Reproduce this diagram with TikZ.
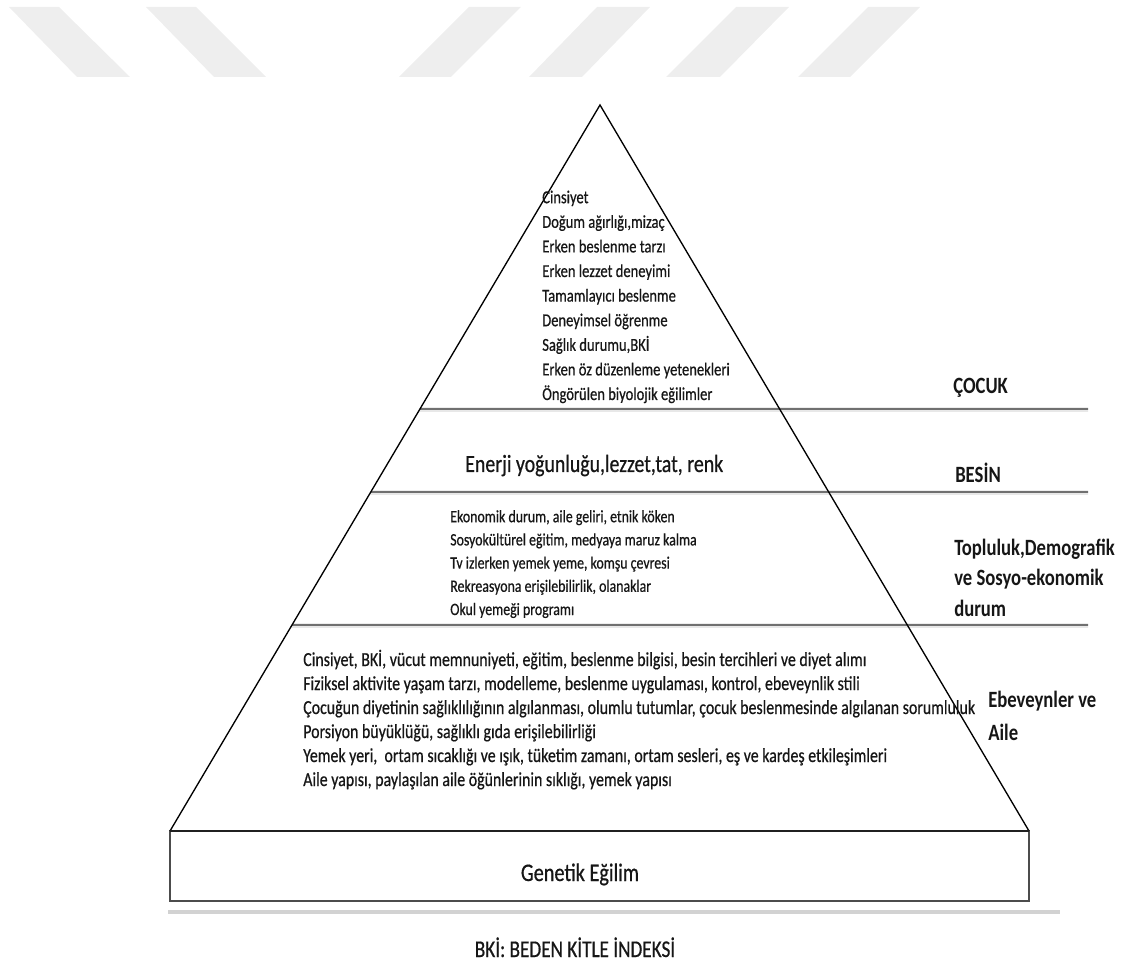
\documentclass[tikz,border=0pt]{standalone}
\usepackage{fontspec}
\setmainfont{Carlito}[FakeStretch=0.8, UprightFeatures={FakeBold=0.6}]
\usepackage{tikz}
\usetikzlibrary{calc}

\definecolor{wmgray}{HTML}{EEEEEE}
\definecolor{rulegray}{HTML}{707070}
\definecolor{ink}{HTML}{161616}

\tikzstyle{stripe} = [fill=wmgray, draw=none]
\tikzstyle{side} = [draw=black, line width=1pt]
\tikzstyle{divider} = [draw=rulegray, line width=1.5pt]
\tikzstyle{dividershade} = [draw=gray!18, line width=1.5pt]
\tikzstyle{items} = [text=ink, align=left, anchor=base west, inner sep=0pt,
    font=\fontsize{13.65}{18.45}\selectfont]
\tikzstyle{layername} = [text=ink, align=left, anchor=base west, inner sep=0pt,
    font=\fontsize{17.5}{23.25}\selectfont\bfseries]
\tikzstyle{bigtext} = [text=ink, anchor=base, inner sep=0pt,
    font=\fontsize{19}{22}\selectfont]

\begin{document}
\begin{tikzpicture}[x=0.75pt, y=-0.75pt]
    \useasboundingbox (0,0) rectangle (1122,962);

    % watermark stripes
    \fill[stripe] (9,7) -- (59,7) -- (130,77) -- (77,77) -- cycle;
    \fill[stripe] (146,7) -- (196,7) -- (266,77) -- (214,77) -- cycle;
    \fill[stripe] (469,7) -- (521,7) -- (451,77) -- (399,77) -- cycle;
    \fill[stripe] (597,7) -- (650,7) -- (582,77) -- (529,77) -- cycle;
    \fill[stripe] (736,7) -- (789,7) -- (720,77) -- (666,77) -- cycle;
    \fill[stripe] (868,7) -- (920,7) -- (850,77) -- (798,77) -- cycle;

    % pyramid corners
    \coordinate (apex) at (600,105);
    \coordinate (bl) at (170,831);
    \coordinate (br) at (1029,831);

    % layer dividers
    \foreach \yy in {409,492,625} {
        \draw[dividershade] ($(apex)!{(\yy+2-105)/726}!(bl)$) -- (1088,\yy+2);
        \draw[divider] ($(apex)!{(\yy-105)/726}!(bl)$) -- (1088,\yy);
    }

    % genetic box and rule below it
    \draw[draw=gray!35, line width=3pt] (168,912) -- (1060,912);
    \draw[draw=gray!60!black, line width=1pt] (bl) rectangle (1029,901);
    \draw[side] (bl) -- (apex) -- (br);
    \draw[draw=gray!25!black, line width=2pt] (bl) -- (br);

    % layer contents (anchored at the last line)
    \node[items] (child) at (542,400) {Cinsiyet\\Doğum ağırlığı,mizaç\\Erken beslenme tarzı\\Erken lezzet deneyimi\\Tamamlayıcı beslenme\\Deneyimsel öğrenme\\Sağlık durumu,BKİ\\Erken öz düzenleme yetenekleri\\Öngörülen biyolojik eğilimler};
    \node[items, font=\fontsize{18.6}{22}\selectfont] (food) at (465,472) {Enerji yoğunluğu,lezzet,tat, renk};
    \node[items, font=\fontsize{13}{17.4}\selectfont] (community) at (450,615) {Ekonomik durum, aile geliri, etnik köken\\Sosyokültürel eğitim, medyaya maruz kalma\\Tv izlerken yemek yeme, komşu çevresi\\Rekreasyona erişilebilirlik, olanaklar\\Okul yemeği programı};
    \node[items, font=\fontsize{14.9}{18}\selectfont] (family) at (303,786) {Cinsiyet, BKİ, vücut memnuniyeti, eğitim, beslenme bilgisi, besin tercihleri ve diyet alımı\\Fiziksel aktivite yaşam tarzı, modelleme, beslenme uygulaması, kontrol, ebeveynlik stili\\Çocuğun diyetinin sağlıklılığının algılanması, olumlu tutumlar, çocuk beslenmesinde algılanan sorumluluk\\Porsiyon büyüklüğü, sağlıklı gıda erişilebilirliği\\Yemek yeri,\ \ ortam sıcaklığı ve ışık, tüketim zamanı, ortam sesleri, eş ve kardeş etkileşimleri\\Aile yapısı, paylaşılan aile öğünlerinin sıklığı, yemek yapısı};

    % layer names
    \node[layername] (childname) at (953,394) {ÇOCUK};
    \node[layername] (foodname) at (955,483) {BESİN};
    \node[layername] (communityname) at (954,617) {Topluluk,Demografik\\ve Sosyo-ekonomik\\durum};
    \node[layername, font=\fontsize{17.5}{24.75}\selectfont\bfseries] (familyname) at (988,740) {Ebeveynler ve\\Aile};

    % base and note
    \node[bigtext] (genetic) at (580,881) {Genetik Eğilim};
    \node[bigtext, font=\fontsize{18}{22}\selectfont] (note) at (575,957) {BKİ: BEDEN KİTLE İNDEKSİ};
\end{tikzpicture}
\end{document}
